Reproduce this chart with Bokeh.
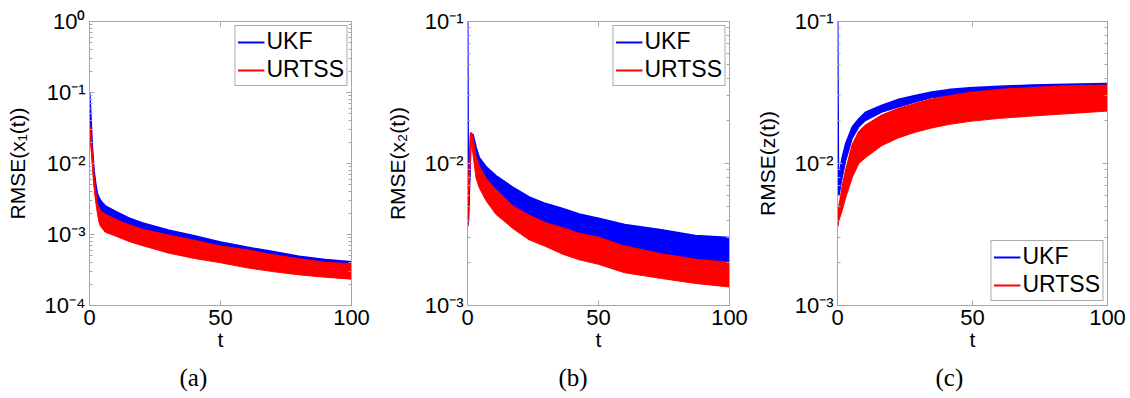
from bokeh.plotting import figure
from bokeh.layouts import row
from bokeh.models import (Range1d, FixedTicker, LinearAxis, LogAxis, Legend, LegendItem,
                          CustomJSTickFormatter, Title)
from bokeh.embed import file_html
from bokeh.resources import INLINE

# ---------------- data (envelopes of the noisy RMSE traces) ----------------
# Panel (a): RMSE(x1(t))
a_t         = [0, 0.4, 1.0, 1.65, 2.3, 2.9, 3.6, 4.2, 6, 10, 15, 20, 30, 40, 50, 60, 70, 80, 90, 100]
a_ukf_up    = [0.1, 0.05, 0.017, 0.008, 0.0052, 0.0038, 0.0033, 0.003, 0.0025, 0.0021, 0.0017, 0.00145,
               0.00115, 0.00095, 0.00078, 0.00066, 0.00057, 0.00049, 0.00044, 0.00041]
a_ukf_lo    = [0.09, 0.045, 0.015, 0.0065, 0.004, 0.0028, 0.002, 0.0017, 0.0014, 0.0012, 0.001, 0.00088,
               0.0007, 0.00059, 0.0005, 0.00043, 0.00038, 0.00034, 0.00031, 0.0003]
a_urtss_up  = [0.034, 0.025, 0.014, 0.0063, 0.0038, 0.0027, 0.0023, 0.0021, 0.0019, 0.0016, 0.00135,
               0.00118, 0.00097, 0.00082, 0.00068, 0.0006, 0.00051, 0.00045, 0.0004, 0.00038]
a_urtss_lo  = [0.03, 0.02, 0.011, 0.005, 0.003, 0.0021, 0.0015, 0.0013, 0.00108, 0.00095, 0.0008,
               0.0007, 0.00055, 0.00046, 0.0004, 0.00034, 0.0003, 0.00027, 0.00025, 0.000235]

# Panel (b): RMSE(x2(t))
b_t         = [0, 0.3, 1.3, 2.0, 3.2, 4.4, 7, 10.8, 17.2, 23.5, 29.9, 36.3, 42.6, 50, 60, 74, 87, 100]
b_ukf_up    = [0.1, 0.004, 0.016, 0.016, 0.013, 0.011, 0.0095, 0.0082, 0.0068, 0.0058, 0.0052, 0.0048,
               0.0044, 0.0041, 0.0037, 0.0034, 0.0031, 0.003]
b_ukf_lo    = [0.0036, 0.0038, 0.015, 0.014, 0.011, 0.0085, 0.007, 0.0057, 0.0046, 0.0039, 0.0034, 0.0031,
               0.0028, 0.0026, 0.0023, 0.0021, 0.0019, 0.0018]
b_urtss_up  = [0.0036, 0.006, 0.0165, 0.015, 0.011, 0.0095, 0.0078, 0.0065, 0.005, 0.0043, 0.0038, 0.0035,
               0.0032, 0.003, 0.0026, 0.0023, 0.0021, 0.002]
b_urtss_lo  = [0.0035, 0.0055, 0.015, 0.012, 0.008, 0.0068, 0.0055, 0.0044, 0.0035, 0.0029, 0.0026, 0.0023,
               0.0021, 0.00195, 0.0017, 0.00155, 0.00143, 0.00135]

# Panel (c): RMSE(z(t))
c_t         = [0, 0.3, 0.6, 1.8, 3.1, 5.5, 7.9, 10.4, 16.5, 22.7, 28.8, 34.9, 41, 49, 60, 72, 85, 100]
c_ukf_up    = [0.1, 0.0062, 0.008, 0.011, 0.0138, 0.018, 0.0205, 0.0229, 0.0256, 0.0282, 0.0300, 0.0318,
               0.0330, 0.0340, 0.0349, 0.0355, 0.036, 0.0365]
c_ukf_lo    = [0.006, 0.006, 0.006, 0.008, 0.0105, 0.015, 0.018, 0.02, 0.023, 0.025, 0.027, 0.029,
               0.03, 0.031, 0.032, 0.033, 0.033, 0.034]
c_urtss_up  = [0.0036, 0.0042, 0.0049, 0.0068, 0.0089, 0.0134, 0.0166, 0.0185, 0.0218, 0.0243, 0.0263,
               0.0282, 0.0297, 0.0315, 0.033, 0.034, 0.035, 0.0354]
c_urtss_lo  = [0.0036, 0.0038, 0.004, 0.0047, 0.0058, 0.008, 0.01, 0.011, 0.0134, 0.0152, 0.0166,
               0.0178, 0.0188, 0.0198, 0.0208, 0.0216, 0.0224, 0.0234]

x_ticks = [0, 50, 100]
series_names = ["UKF", "URTSS"]
colors = ["#0000ff", "#ff0000"]

GREY = "#a6a6a6"
FONT = "Liberation Sans"

sup_js = """
const sup = {"-":"\u207b","0":"\u2070","1":"\u00b9","2":"\u00b2","3":"\u00b3","4":"\u2074","5":"\u2075"};
const e = Math.round(Math.log10(tick));
return "10" + String(e).split("").map(c => sup[c]).join("");
"""


def decade_ticks(lo_exp, hi_exp):
    major = [10.0 ** e for e in range(lo_exp, hi_exp + 1)]
    minor = [m * 10.0 ** e for e in range(lo_exp, hi_exp) for m in range(2, 10)]
    return major, minor


def style_ticks(ax):
    ax.axis_line_color = GREY
    ax.major_tick_line_color = GREY
    ax.minor_tick_line_color = GREY
    ax.major_tick_in = 5
    ax.major_tick_out = 0
    ax.minor_tick_in = 3
    ax.minor_tick_out = 0


def make_panel(t, ukf, urtss, ylabel, caption, lo_exp, hi_exp, width, bl, br,
               legend_loc, cap_offset):
    p = figure(width=width, height=398, y_axis_type="log",
               x_range=Range1d(0, 100), y_range=Range1d(10.0 ** lo_exp, 10.0 ** hi_exp),
               output_backend="svg", toolbar_location=None,
               min_border_left=bl, min_border_right=br, min_border_top=21, min_border_bottom=93)
    p.xgrid.visible = False
    p.ygrid.visible = False
    p.outline_line_color = GREY
    p.outline_line_width = 1

    major, minor = decade_ticks(lo_exp, hi_exp)
    yt = FixedTicker(ticks=major, minor_ticks=minor)
    xt = FixedTicker(ticks=x_ticks, minor_ticks=[])

    renderers = []
    for (up, lo), col in zip([ukf, urtss], colors):
        p.varea(x=t, y1=lo, y2=up, fill_color=col, fill_alpha=1.0)
        r = p.line(x=t, y=up, line_color=col, line_width=2)
        p.line(x=t, y=lo, line_color=col, line_width=1)
        renderers.append(r)

    xa = p.xaxis[0]
    xa.ticker = xt
    xa.axis_label = "t"
    ya = p.yaxis[0]
    ya.ticker = yt
    ya.formatter = CustomJSTickFormatter(code=sup_js)
    ya.axis_label = ylabel

    for ax in (xa, ya):
        style_ticks(ax)
        ax.major_label_text_font = FONT
        ax.major_label_text_font_size = "22px"
        ax.major_label_text_color = "black"
        ax.axis_label_text_font = FONT
        ax.axis_label_text_font_size = "21px"
        ax.axis_label_text_font_style = "normal"
        ax.axis_label_text_color = "black"
    xa.major_label_standoff = 4
    xa.axis_label_standoff = 0
    ya.major_label_standoff = 4
    ya.axis_label_standoff = 13

    # mirrored axes (box with ticks), labels invisible
    top = LinearAxis(ticker=xt, major_label_text_font_size="2px", major_label_text_alpha=0,
                     major_label_standoff=0)
    right = LogAxis(ticker=yt, major_label_text_font_size="2px", major_label_text_alpha=0,
                    major_label_standoff=0)
    for ax in (top, right):
        style_ticks(ax)
    p.add_layout(top, "above")
    p.add_layout(right, "right")

    legend = Legend(items=[LegendItem(label=n, renderers=[r]) for n, r in zip(series_names, renderers)],
                    location=legend_loc)
    legend.label_text_font = FONT
    legend.label_text_font_size = "23px"
    legend.label_text_color = "black"
    legend.label_height = 24
    legend.glyph_height = 24
    legend.glyph_width = 27
    legend.label_standoff = 2
    legend.spacing = 1
    legend.padding = 2
    legend.margin = 4
    legend.border_line_color = "#555555"
    legend.border_line_width = 1
    legend.background_fill_alpha = 1.0
    p.add_layout(legend)

    cap = Title(text=caption, align="left", offset=cap_offset, text_font="Liberation Serif",
                text_font_size="25px", text_font_style="normal", text_color="black", standoff=16)
    p.add_layout(cap, "below")
    return p


pa = make_panel(a_t, (a_ukf_up, a_ukf_lo), (a_urtss_up, a_urtss_lo), "RMSE(x\u2081(t))", "(a)",
                -4, 0, 378, 89, 27, "top_right", 90)
pb = make_panel(b_t, (b_ukf_up, b_ukf_lo), (b_urtss_up, b_urtss_lo), "RMSE(x\u2082(t))", "(b)",
                -3, -1, 374, 89, 23, "top_right", 91)
pc = make_panel(c_t, (c_ukf_up, c_ukf_lo), (c_urtss_up, c_urtss_lo), "RMSE(z(t))", "(c)",
                -3, -1, 378, 83, 23, "bottom_right", 98)

layout = row(pa, pb, pc)
open("out.html", "w").write(file_html(layout, INLINE))
